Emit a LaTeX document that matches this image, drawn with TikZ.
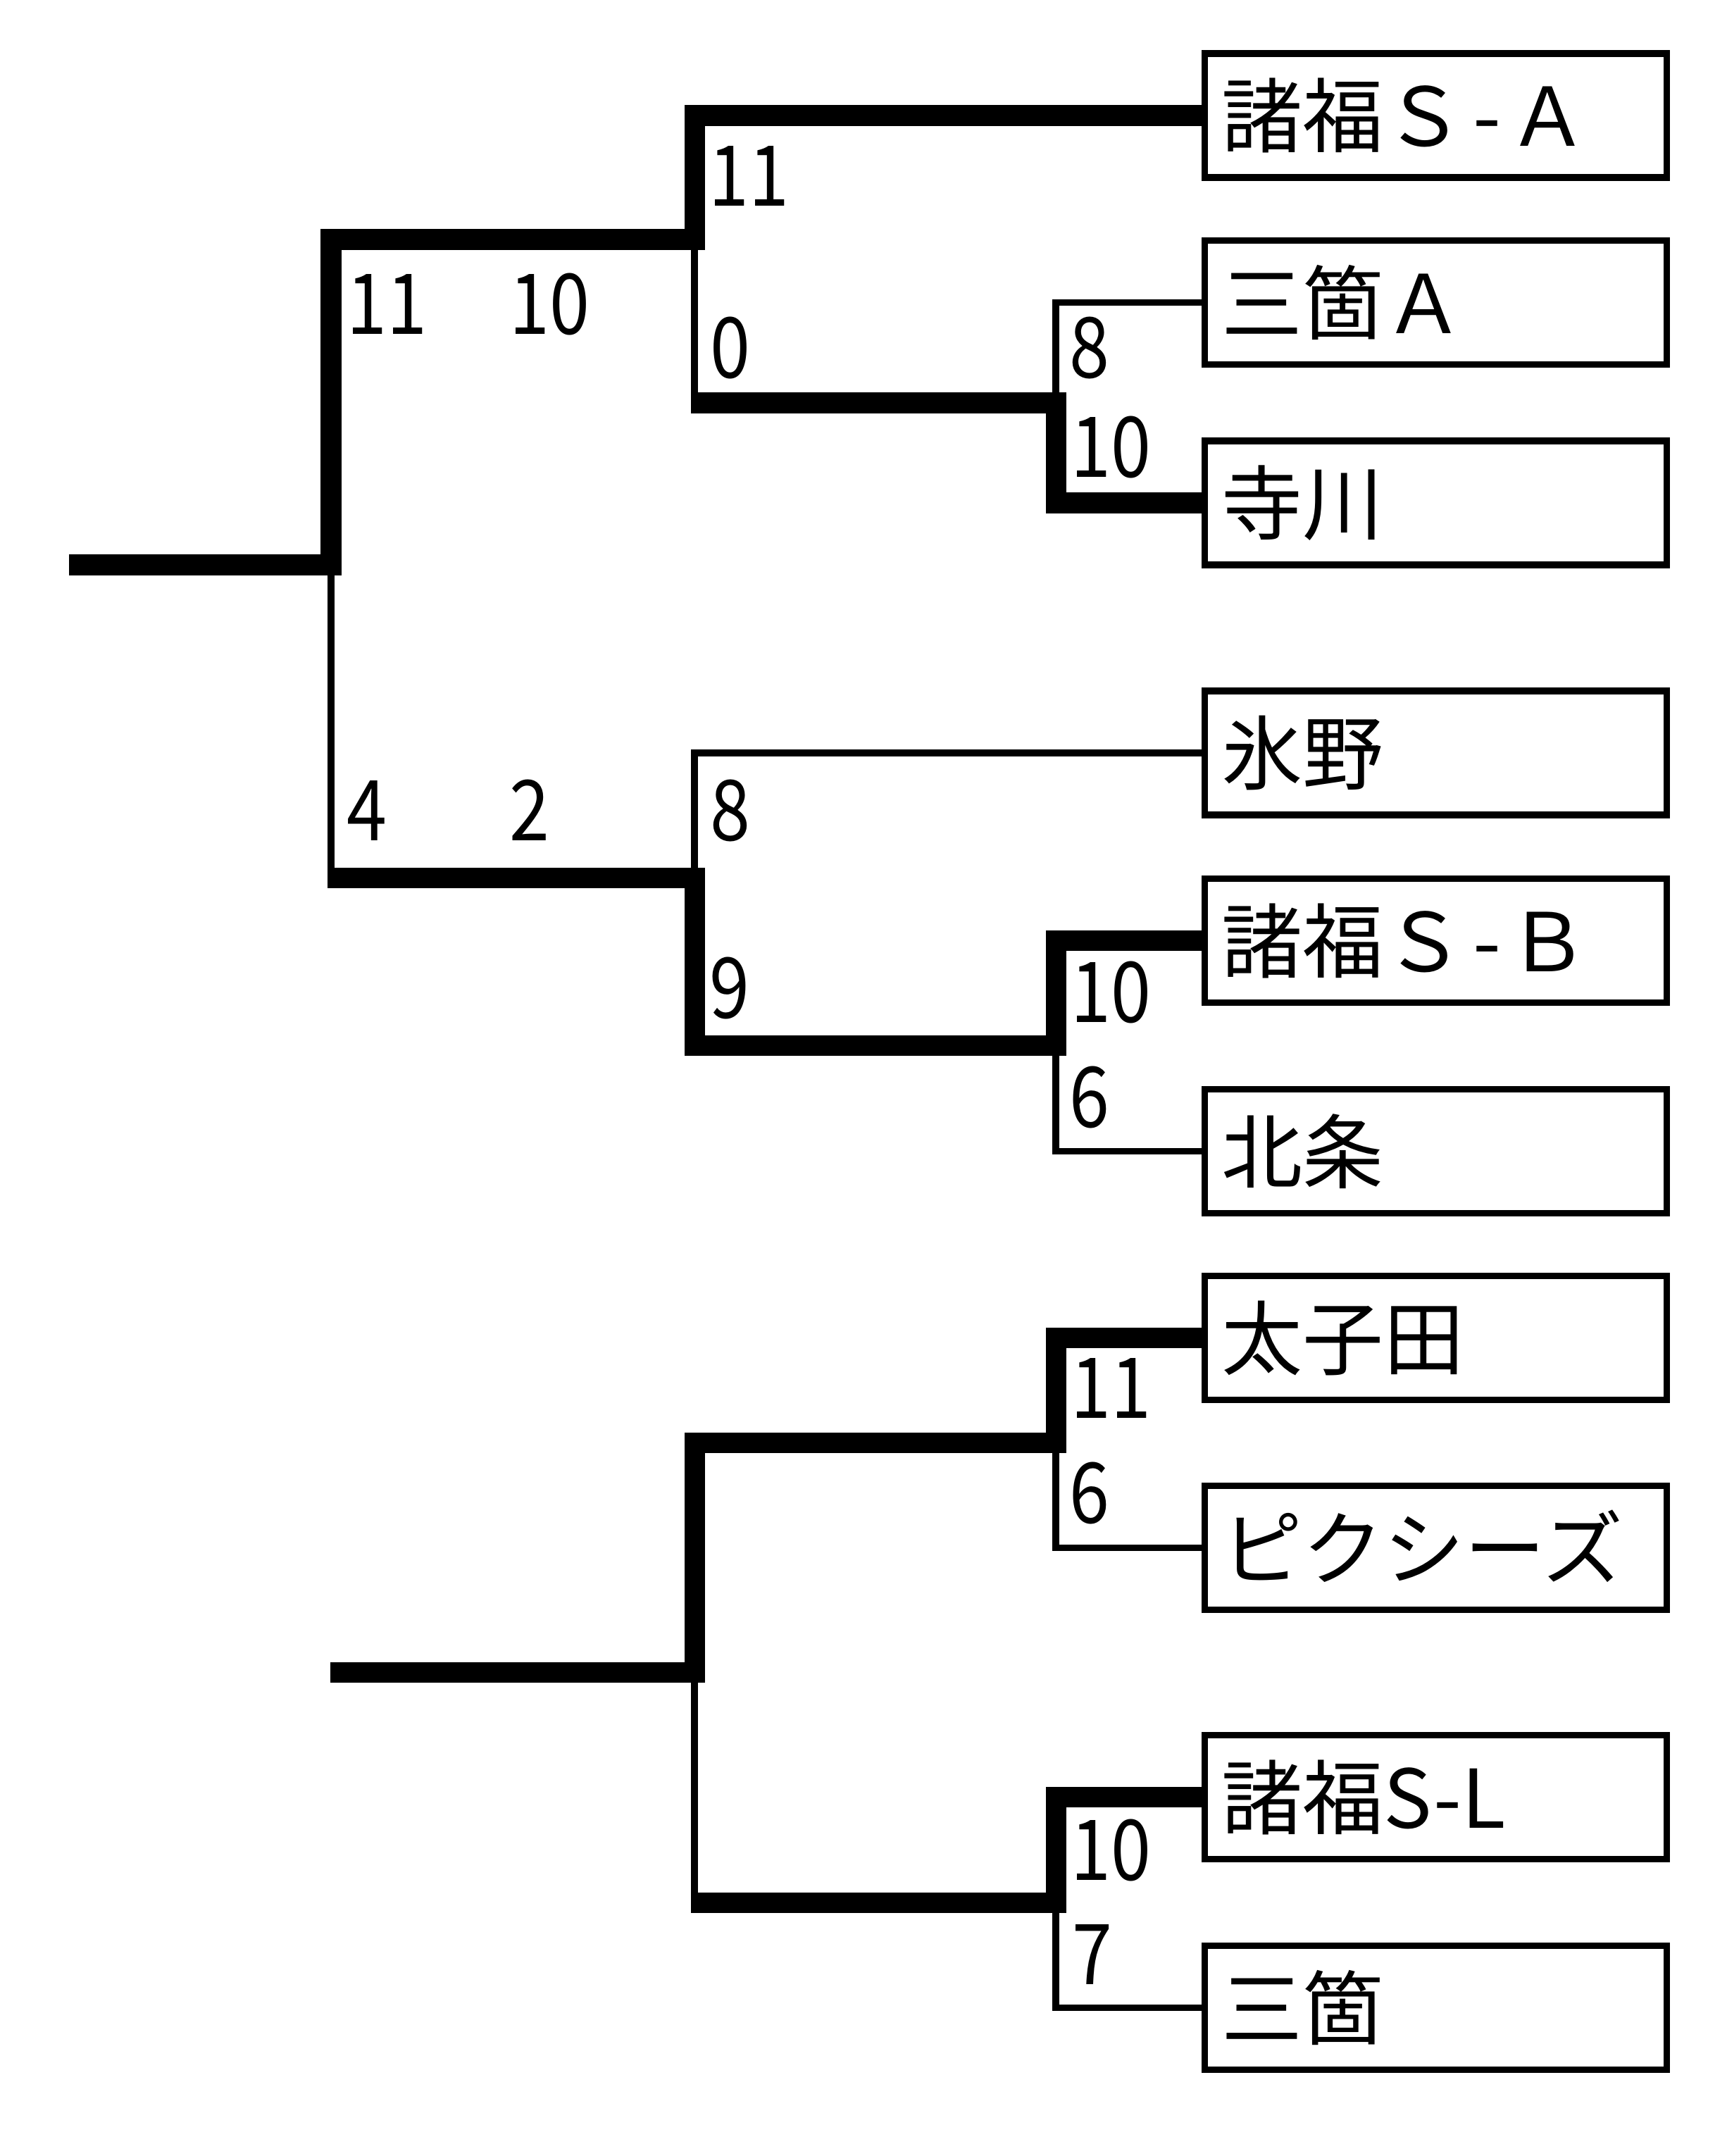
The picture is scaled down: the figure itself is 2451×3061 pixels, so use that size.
\documentclass[tikz,border=0pt]{standalone}
\usepackage{fontspec}
\setmainfont{Noto Sans CJK JP}
\newfontfamily\numfont[FakeStretch=0.86]{Noto Sans CJK JP}
\usetikzlibrary{calc}
\begin{document}
\begin{tikzpicture}[x=0.01cm,y=-0.01cm,
  win/.style={line width=0.29cm,line join=miter},
  lose/.style={line width=0.095cm,line join=miter},
  team/.style={draw,line width=0.095cm,rectangle,inner xsep=0.245cm,inner ysep=0pt,
    text width=6.07cm,minimum height=1.76cm,align=left,
    font=\fontsize{32.7pt}{40pt}\selectfont,text height=28.8pt,text depth=3.9pt},
  score/.style={anchor=base west,inner sep=0pt,font=\numfont\fontsize{33.9pt}{40pt}\selectfont}]
\useasboundingbox (0,0) rectangle (2451,3061);
% team boxes
\node[team] (b1) at (2038.5,164) {諸福Ｓ\kern0.1em-\kern0.08emＡ};
\node[team] (b2) at (2038.5,429.5) {三箇Ａ};
\node[team] (b3) at (2038.5,714) {寺川};
\node[team] (b4) at (2038.5,1069) {氷野};
\node[team] (b5) at (2038.5,1335.5) {諸福Ｓ\kern0.1em-\kern0.08emＢ};
\node[team] (b6) at (2038.5,1634.5) {北条};
\node[team] (b7) at (2038.5,1899.5) {太子田};
\node[team] (b8) at (2038.5,2197.5) {ピクシーズ};
\node[team] (b9) at (2038.5,2551.5) {諸福S-L};
\node[team] (b10) at (2038.5,2850.5) {三箇};
% junctions
\coordinate (r1) at (98,802);
\coordinate (f1) at (470,802);
\coordinate (m3) at (986,340);
\coordinate (m4) at (986,1246);
\coordinate (m1) at (1499,572);
\coordinate (m2) at (1499,1484);
\coordinate (r2) at (469,2374);
\coordinate (m7) at (986,2374);
\coordinate (m5) at (1499,2048);
\coordinate (m6) at (1499,2701);
% losing lines
\draw[lose] (f1) -- (f1 |- m4);
\draw[lose] (m3) -- (m3 |- m1);
\draw[lose] (m1) |- (b2.west);
\draw[lose] (m4) |- (b4.west);
\draw[lose] (m2) |- (b6.west);
\draw[lose] (m7) -- (m7 |- m6);
\draw[lose] (m5) |- (b8.west);
\draw[lose] (m6) |- (b10.west);
% winning lines
\draw[win] (r1) -- (f1) |- (m3) |- (b1.west);
\draw[win] ($(f1 |- m4)+(-4.75,0)$) -- (m4) |- (m2) |- (b5.west);
\draw[win] ($(m3 |- m1)+(-4.75,0)$) -- (m1) |- (b3.west);
\draw[win] (r2) -- (m7) |- (m5) |- (b7.west);
\draw[win] ($(m7 |- m6)+(-4.75,0)$) -- (m6) |- (b9.west);
% scores
\node[score] (s1) at (492,475) {11};
\node[score] (s2) at (723,475) {10};
\node[score] (s3) at (1006,293) {11};
\node[score] (s4) at (1008,537) {0};
\node[score] (s5) at (1518,537) {8};
\node[score] (s6) at (1520,677) {10};
\node[score] (s7) at (492,1193) {4};
\node[score] (s8) at (723,1193) {2};
\node[score] (s9) at (1008,1193) {8};
\node[score] (s10) at (1007,1445) {9};
\node[score] (s11) at (1520,1451) {10};
\node[score] (s12) at (1518,1600) {6};
\node[score] (s13) at (1520,2013) {11};
\node[score] (s14) at (1518,2162) {6};
\node[score] (s15) at (1520,2669) {10};
\node[score] (s16) at (1522,2817) {7};
\end{tikzpicture}
\end{document}
